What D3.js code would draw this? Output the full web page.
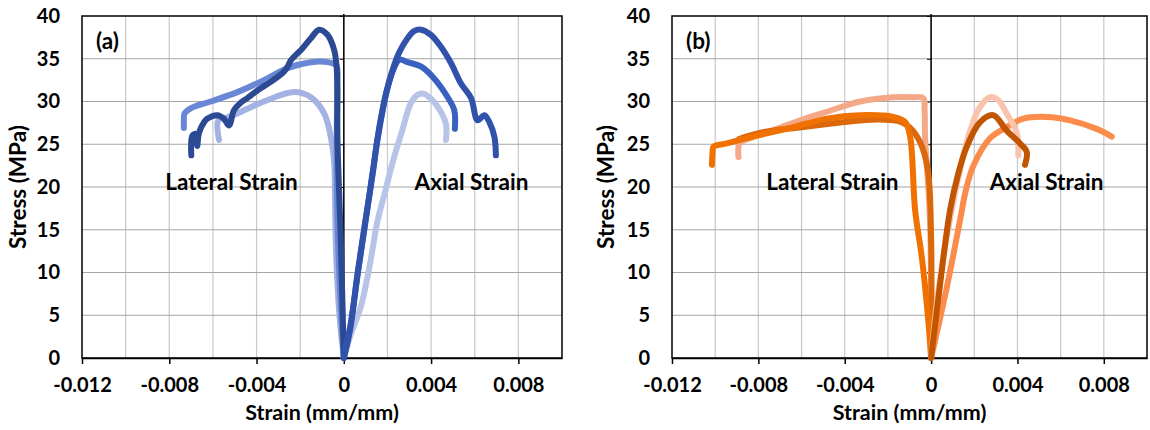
<!DOCTYPE html>
<html>
<head>
<meta charset="utf-8">
<script src="https://cdn.jsdelivr.net/npm/d3@7"></script>
<style>
body { margin: 0; background: #fff; }
text { font-family: Lato, "Open Sans", sans-serif; font-weight: bold; fill: #000; }
</style>
</head>
<body>
<div id="chart"></div>
<script>
// strain (mm/mm), stress (MPa)
var aLatNavy = [[-0.00699,23.7],[-0.00694,26.0],[-0.00678,26.2],[-0.00672,24.8],[-0.00664,26.3],[-0.0064,27.6],[-0.00625,28.0],[-0.0058,28.4],[-0.0055,28.0],[-0.00526,27.2],[-0.00503,29.0],[-0.0047,29.9],[-0.00442,30.4],[-0.0039,31.4],[-0.00335,32.3],[-0.00274,33.5],[-0.00255,34.2],[-0.00243,34.8],[-0.0019,36.2],[-0.00151,37.4],[-0.00113,38.4],[-0.00075,37.8],[-0.00044,36.0],[-0.00032,33.7],[-0.00029,25.5],[-0.00014,13.8],[0,0]];
var aLatMid = [[-0.00733,26.9],[-0.00733,28.0],[-0.0073,28.6],[-0.00702,29.2],[-0.0061,30.0],[-0.00488,31.1],[-0.00366,32.5],[-0.00258,33.9],[-0.00151,34.6],[-0.00075,34.6],[-0.00035,34.2],[-0.0003,32.0],[-0.00033,25.0],[-0.00028,15.0],[-0.00012,5.0],[0,0]];
var aLatLight = [[-0.00572,25.5],[-0.00575,27.8],[-0.0054,28.1],[-0.00488,28.6],[-0.00366,30.0],[-0.00228,31.1],[-0.00151,30.5],[-0.0009,28.6],[-0.0006,25.9],[-0.00044,22.8],[-0.0004,18.0],[-0.00035,12.0],[-0.0002,5.0],[0,0]];
var aAxNavy = [[0,0],[0.0003,3.5],[0.00063,9.9],[0.00109,17.7],[0.00135,22.0],[0.00155,25.8],[0.00193,30.9],[0.00225,33.8],[0.00255,35.8],[0.00292,37.4],[0.0032,38.2],[0.00353,38.4],[0.00399,37.8],[0.00445,36.4],[0.00491,34.5],[0.00537,32.1],[0.00583,30.4],[0.00613,27.8],[0.00644,28.4],[0.00667,27.6],[0.0069,25.9],[0.00697,23.7]];
var aAxMid = [[0,0],[0.0003,3.8],[0.00065,10.0],[0.0011,17.8],[0.00155,25.6],[0.00193,30.8],[0.00225,33.6],[0.00255,34.9],[0.00292,34.6],[0.00353,34.1],[0.00414,32.7],[0.00476,30.5],[0.00506,29.0],[0.00509,26.8]];
var aAxLight = [[0,0],[0.00035,3.0],[0.00078,6.0],[0.0012,11.0],[0.00155,16.1],[0.0019,19.5],[0.00225,23.0],[0.00269,26.7],[0.00307,29.8],[0.0034,30.8],[0.00368,30.9],[0.004,30.3],[0.0043,29.4],[0.00468,27.4],[0.00468,25.5]];

var bLatOrange = [[-0.01015,22.6],[-0.01012,24.0],[-0.01008,24.7],[-0.00946,25.1],[-0.00792,26.1],[-0.00637,27.0],[-0.00483,28.0],[-0.00329,28.4],[-0.00175,28.2],[-0.0012,27.6],[-0.00097,25.9],[-0.00074,17.3],[-0.00043,11.8],[-0.00013,4.4],[0,0]];
var bLatSalmon = [[-0.00892,23.5],[-0.00887,25.1],[-0.0085,25.6],[-0.00792,26.1],[-0.00606,27.8],[-0.00483,28.8],[-0.00329,30.0],[-0.00175,30.5],[-0.0008,30.5],[-0.00036,30.4],[-0.0003,29.0],[-0.00028,25.9],[-0.00005,16.1],[0,0]];
var bLatDark = [[-0.0089,25.6],[-0.0078,26.4],[-0.006,27.0],[-0.004,27.6],[-0.0025,27.9],[-0.0015,27.7],[-0.001,27.0],[-0.0005,25.2],[-0.00015,22.0],[0,14.0],[0,0]];
var bAxPeach = [[0,0],[0.00026,6.4],[0.00073,14.2],[0.00134,22.0],[0.00181,26.6],[0.00225,29.3],[0.00273,30.5],[0.0031,30.2],[0.0035,28.6],[0.00397,26.3],[0.00404,23.7]];
var bAxBrown = [[0,0],[0.0004,8.3],[0.00088,17.3],[0.00125,21.5],[0.00165,24.7],[0.00227,27.6],[0.00288,28.4],[0.0035,26.6],[0.00412,25.1],[0.00443,24.1],[0.00435,22.6]];
var bAxOrange = [[0,0],[0.00073,8.3],[0.00134,16.1],[0.0016,19.5],[0.00196,22.5],[0.00273,25.7],[0.0035,27.0],[0.00427,28.0],[0.00536,28.2],[0.00644,27.8],[0.00767,26.8],[0.00837,25.9]];

var xTicks = [-0.012, -0.008, -0.004, 0, 0.004, 0.008];
var yTicks = [0, 5, 10, 15, 20, 25, 30, 35, 40];

var svg = d3.select("#chart").append("svg")
    .attr("width", 1150)
    .attr("height", 430);

var panels = [
    {tag: "(a)", left: 82, right: 562, titleX: 18, latX: -0.00515, axX: 0.00585,
     series: [
        {data: aLatLight, color: "#a3b2e2"},
        {data: aLatMid, color: "#6a87d6"},
        {data: aLatNavy, color: "#2c4a94"},
        {data: aAxLight, color: "#b7c3e7"},
        {data: aAxMid, color: "#3a60c0"},
        {data: aAxNavy, color: "#3052aa"}
     ]},
    {tag: "(b)", left: 672, right: 1147, titleX: 606, latX: -0.00457, axX: 0.00535,
     series: [
        {data: bLatSalmon, color: "#f5a887"},
        {data: bLatDark, color: "#dc680c"},
        {data: bLatOrange, color: "#f07000"},
        {data: bAxOrange, color: "#fb8c4c"},
        {data: bAxPeach, color: "#f9c3ad"},
        {data: bAxBrown, color: "#c25500"}
     ]}
];

var plotTop = 16, plotBottom = 358;
var tickFont = "20px", labelFont = "22.5px";

panels.forEach(function(p) {
    var x = d3.scaleLinear().domain([-0.012, 0.01]).range([p.left, p.right]);
    var y = d3.scaleLinear().domain([0, 40]).range([plotBottom, plotTop]);
    var g = svg.append("g");

    // gridlines
    g.selectAll(".vgrid")
        .data(d3.range(-5, 5).map(function(i) { return i * 0.002; }))
        .enter().append("line")
        .attr("x1", function(d) { return x(d); })
        .attr("x2", function(d) { return x(d); })
        .attr("y1", plotTop).attr("y2", plotBottom)
        .attr("stroke", "#c8c8c8").attr("stroke-width", 1.2);

    g.selectAll(".hgrid")
        .data(yTicks.slice(1, -1))
        .enter().append("line")
        .attr("x1", p.left).attr("x2", p.right)
        .attr("y1", function(d) { return y(d); })
        .attr("y2", function(d) { return y(d); })
        .attr("stroke", "#a6a6a6").attr("stroke-width", 1.2);

    // frame
    g.append("rect")
        .attr("x", p.left).attr("y", plotTop)
        .attr("width", p.right - p.left).attr("height", plotBottom - plotTop)
        .attr("fill", "none").attr("stroke", "#000").attr("stroke-width", 1.5);

    // zero line with ticks
    g.append("g")
        .attr("transform", "translate(" + x(0) + ",0)")
        .call(d3.axisLeft(y).tickValues(yTicks).tickSize(4).tickFormat("").tickSizeOuter(0))
        .call(function(s) {
            s.select(".domain").attr("stroke-width", 1.5).attr("d", "M0," + (plotTop - 2) + "V" + plotBottom);
        });

    // y labels at the left edge
    g.append("g")
        .attr("transform", "translate(" + p.left + ",0)")
        .call(d3.axisLeft(y).tickValues(yTicks).tickSize(0).tickPadding(22))
        .call(function(s) {
            s.select(".domain").remove();
            s.selectAll("text").style("font-size", tickFont).style("font-family", "Lato, sans-serif");
        });

    // x axis
    g.append("g")
        .attr("transform", "translate(0," + plotBottom + ")")
        .call(d3.axisBottom(x).tickValues(xTicks).tickSize(6).tickSizeOuter(0).tickPadding(14)
            .tickFormat(function(d) { return d === 0 ? "0" : d.toFixed(3); }))
        .call(function(s) {
            s.select(".domain").attr("stroke-width", 1.5);
            s.selectAll(".tick line").attr("stroke-width", 1.5);
            s.selectAll("text").style("font-size", tickFont).style("font-family", "Lato, sans-serif");
        });

    var line = d3.line()
        .x(function(d) { return x(d[0]); })
        .y(function(d) { return y(d[1]); })
        .curve(d3.curveCatmullRom.alpha(0.5));

    p.series.forEach(function(s) {
        g.append("path")
            .datum(s.data)
            .attr("d", line)
            .attr("fill", "none")
            .attr("stroke", s.color)
            .attr("stroke-width", 6)
            .attr("stroke-linecap", "round")
            .attr("stroke-linejoin", "round");
    });

    g.append("text")
        .attr("x", p.left + 14).attr("y", 49)
        .style("font-size", labelFont)
        .text(p.tag);

    g.append("text")
        .attr("x", x(p.latX)).attr("y", 190)
        .attr("text-anchor", "middle")
        .style("font-size", labelFont)
        .text("Lateral Strain");

    g.append("text")
        .attr("x", x(p.axX)).attr("y", 190)
        .attr("text-anchor", "middle")
        .style("font-size", labelFont)
        .text("Axial Strain");

    g.append("text")
        .attr("x", (p.left + p.right) / 2).attr("y", 420)
        .attr("text-anchor", "middle")
        .style("font-size", "21.5px")
        .text("Strain (mm/mm)");

    g.append("text")
        .attr("transform", "translate(" + p.titleX + "," + (plotTop + plotBottom) / 2 + ") rotate(-90)")
        .attr("dy", "0.35em")
        .attr("text-anchor", "middle")
        .style("font-size", labelFont)
        .text("Stress (MPa)");
});
</script>
</body>
</html>
